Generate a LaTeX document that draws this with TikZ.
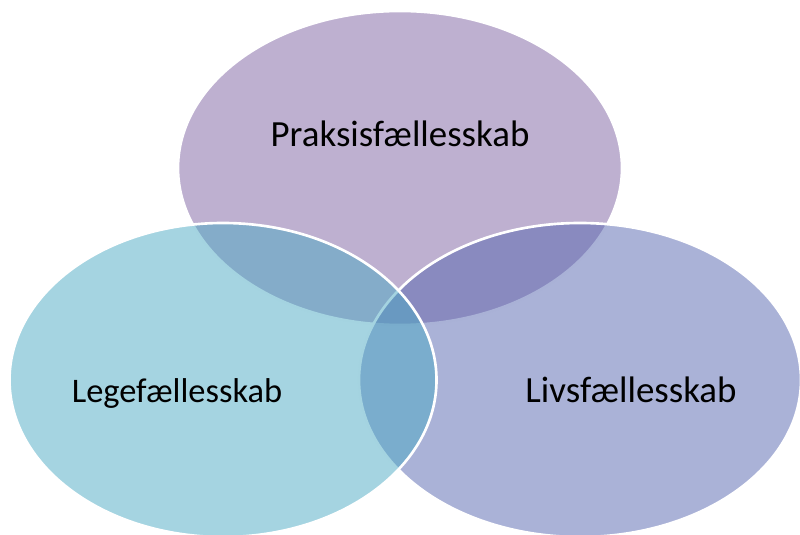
\documentclass[tikz,border=0pt]{standalone}
\usepackage{fontspec}
\setmainfont{Carlito}
\definecolor{praksis}{RGB}{125,97,161}
\definecolor{lege}{RGB}{75,169,195}
\definecolor{livs}{RGB}{85,101,175}

\begin{document}
\begin{tikzpicture}[
    blob/.style={fill opacity=0.5, draw=white, draw opacity=1, line width=1.5pt},
    word/.style={font=\fontsize{21}{25}\selectfont, anchor=base}]
  \useasboundingbox (0,0) rectangle (16,10.68);
  \clip (0,0) rectangle (16,10.68);

  \filldraw[blob, fill=praksis] (8,7.32) ellipse (4.44 and 3.14);
  \filldraw[blob, fill=livs] (11.6,3.08) ellipse (4.42 and 3.14);
  \filldraw[blob, fill=lege] (4.46,3.08) ellipse (4.27 and 3.14);

  \node[word] (praksis) at (8,7.74)    {Praksisfællesskab};
  \node[word, font=\fontsize{19.6}{24}\selectfont] (lege) at (3.54,2.64) {Legefællesskab};
  \node[word] (livs)    at (12.62,2.64) {Livsfællesskab};
\end{tikzpicture}
\end{document}
